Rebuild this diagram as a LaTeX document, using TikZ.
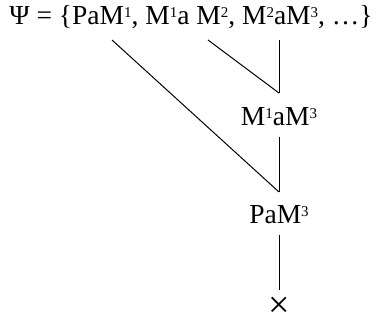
\documentclass[tikz,border=0pt]{standalone}
\usepackage{fontspec}
\setmainfont{Liberation Serif}
\usetikzlibrary{positioning}
\newcommand{\sps}[1]{\raisebox{0.55ex}{\fontsize{15}{15}\selectfont #1}}

\begin{document}
\begin{tikzpicture}[x=1pt,y=-1pt,line width=1pt,
  lbl/.style={inner sep=0pt,font=\fontsize{27.5}{30}\selectfont}]
  \useasboundingbox (0,0) rectangle (382,330);
  % top set
  \node[lbl] (psi) at (191,17) {Ψ = \{PaM\sps{1}, M\sps{1}a M\sps{2}, M\sps{2}aM\sps{3}, \dots\}};
  \coordinate (s1) at (112,40);
  \coordinate (s2) at (208,40);
  \coordinate (s3) at (279,40);
  \coordinate (v1) at (279,93);
  \coordinate (v2) at (279,192);
  % derived terms
  \node[lbl] (m13) at (279,117) {M\sps{1}aM\sps{3}};
  \node[lbl] (pam3) at (279,215) {PaM\sps{3}};
  \node[lbl,font=\fontsize{38}{40}\selectfont] (cross) at (279,307) {×};
  \draw (s2) -- (v1); \draw (s3) -- (v1);
  \draw (s1) -- (v2);
  \draw[shorten <=10pt] (m13.south) -- (v2);
  \draw[shorten <=10pt,shorten >=6pt] (pam3.south) -- (cross.north);
\end{tikzpicture}
\end{document}
